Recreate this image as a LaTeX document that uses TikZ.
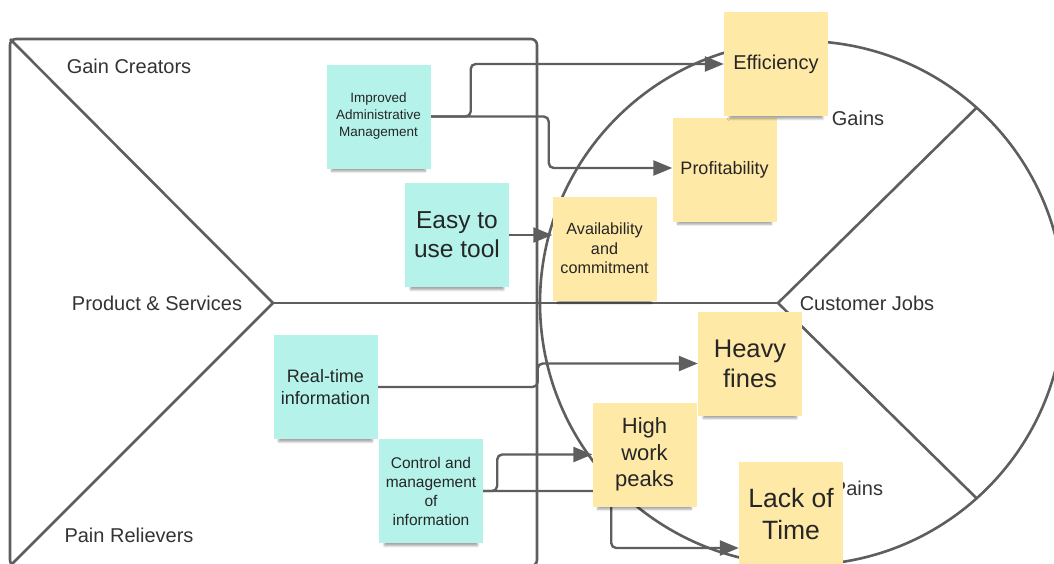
\documentclass[tikz,border=0pt]{standalone}
\usepackage{fontspec}
\setmainfont{Liberation Sans}
\usepackage{tikz}
\usetikzlibrary{arrows.meta,backgrounds,shadows.blur}
\definecolor{linegray}{RGB}{94, 94, 94}
\definecolor{textgray}{RGB}{51, 51, 51}
\definecolor{mint}{RGB}{181, 243, 234}
\definecolor{sand}{RGB}{255, 233, 166}
\newcommand{\notefont}[2]{\fontsize{#1}{#2}\selectfont}

\begin{document}
\begin{tikzpicture}[x = 1pt, y = -1pt, >={Triangle[length=19pt, width=15pt]},
  canvas/.style = {linegray, line width = 2.6pt},
  conn/.style = {linegray, line width = 2.4pt, rounded corners = 5pt, ->},
  note/.style = {minimum width = 104pt, minimum height = 104pt, inner sep = 2pt, align = center, text = black!85,
    blur shadow = {shadow xshift = 0pt, shadow yshift = -9pt, shadow scale = 0.9, shadow opacity = 35, shadow blur steps = 6}},
  gainnote/.style = {note, fill = sand},
  relnote/.style = {note, fill = mint},
  lbl/.style = {text = textgray, font = \notefont{20}{24}}]
\useasboundingbox (0,0) rectangle (1054,563);
% labels of the canvas
\node[lbl] (lgain) at (129,66) {Gain Creators};
\node[lbl] (lprod) at (157,303) {Product \& Services};
\node[lbl] (lpain) at (129,535) {Pain Relievers};
\node[lbl] (ljobs) at (867,303) {Customer Jobs};
\node[lbl] (lgains) at (858,118) {Gains};
\node[lbl] (lpains) at (858,488) {Pains};
% value map
\node[relnote, font = \notefont{13.5}{17}] (adm) at (378.5,116.5) {Improved\\Administrative\\Management};
\node[relnote, font = \notefont{24.5}{29}] (easy) at (457,235) {Easy to\\use tool};
\node[relnote, font = \notefont{18}{22}] (real) at (325.5,387) {Real-time\\information};
\node[relnote, font = \notefont{15.5}{19}] (ctrl) at (431,491) {Control and\\management\\of\\information};
% customer profile
\node[gainnote, font = \notefont{18}{22}] (prof) at (724.5,169.5) {Profitability};
\node[gainnote, font = \notefont{20}{24}] (eff) at (776,64) {Efficiency};
\node[gainnote, font = \notefont{16.2}{19.5}] (avail) at (604.5,248.5) {Availability\\and\\commitment};
\node[gainnote, font = \notefont{25.5}{30}] (heavy) at (750,363.5) {Heavy\\fines};
\node[gainnote, font = \notefont{22}{26.5}] (peaks) at (644.5,454.5) {High\\work\\peaks};
\node[gainnote, font = \notefont{26.5}{32}] (lack) at (791,514) {Lack of\\Time};
\begin{pgfonlayer}{background}
\draw[canvas, rounded corners = 6pt] (10,39) rectangle (537,566);
\draw[canvas] (10,39) -- (273,303) -- (10,566);
\draw[canvas] (273,303) -- (778,303);
\draw[canvas] (802,303) circle[radius = 262];
\draw[canvas] ([shift={(-48.2:262)}]802,303) -- (778,303) -- ([shift={(48.2:262)}]802,303);
\draw[conn] (adm.east) -- ++(40,0) |- (eff.west);
\draw[conn] (adm.east) -- ++(118,0) |- ([yshift = 1.5pt]prof.west);
\draw[conn] (easy.east) -- (easy.east -| avail.west);
\draw[conn] (real.east) -- ++(160,0) |- (heavy.west);
\draw[conn] (ctrl.east) -- ++(14,0) |- (peaks.west);
\draw[conn] (ctrl.east) -- ++(128,0) |- ([yshift = -34pt]lack.west);
\end{pgfonlayer}
\end{tikzpicture}
\end{document}
